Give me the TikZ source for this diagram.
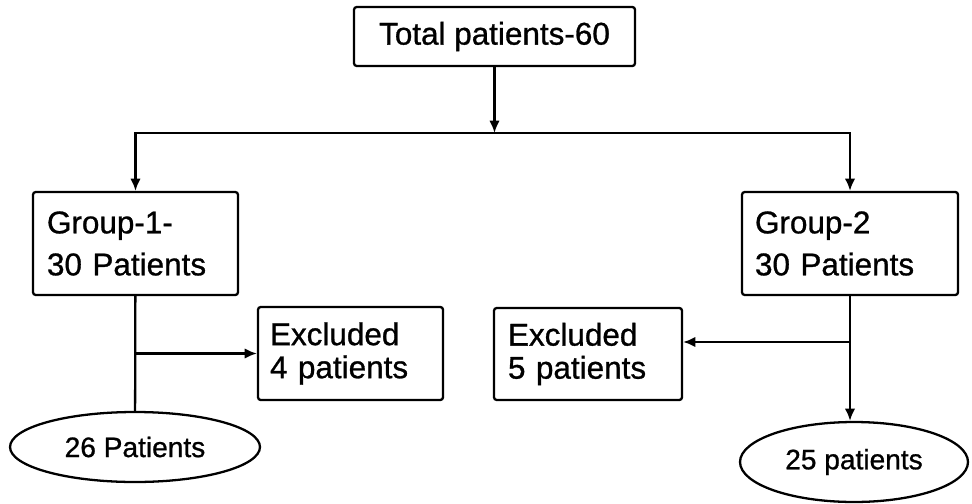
\documentclass[tikz,border=0pt]{standalone}
\usepackage{fontspec}
\setmainfont{Liberation Sans}[FakeBold=0.9]
\usetikzlibrary{shapes.geometric, arrows.meta}

\begin{document}
\begin{tikzpicture}[x=0.02cm, y=-0.02cm,
  box/.style={draw=black, line width=1.3pt, rounded corners=1.5pt, inner ysep=0pt},
  bigtext/.style={font=\fontsize{17.9}{23.9}\selectfont},
  smalltext/.style={font=\fontsize{17.9}{18.8}\selectfont},
  oval/.style={ellipse, draw=black, line width=1.3pt, inner sep=0pt, font=\fontsize{16}{19}\selectfont},
  arr/.style={-{Latex[length=7pt,width=6pt]}, line width=1.3pt},
  link/.style={line width=1.3pt}]

  \useasboundingbox (0,0) rectangle (972,503);

  % Nodes
  \node[box, bigtext, minimum width=5.62cm, minimum height=1.18cm] (total) at (494.5,36.5) {Total patients-60};
  \node[box, bigtext, minimum width=4.1cm, minimum height=2.06cm, inner xsep=0.28cm, text width=3.54cm, align=left] (grpa) at (135.5,243.5) {Group-1-\\30 Patients};
  \node[box, bigtext, minimum width=4.32cm, minimum height=2.06cm, inner xsep=0.26cm, text width=3.8cm, align=left] (grpb) at (850,243.5) {Group-2\\30 Patients};
  \node[box, smalltext, minimum width=3.7cm, minimum height=1.86cm, inner xsep=0.24cm, text width=3.22cm, align=left] (exa) at (350.5,353.5) {Excluded\\4 patients};
  \node[box, smalltext, minimum width=3.76cm, minimum height=1.84cm, inner xsep=0.28cm, text width=3.2cm, align=left] (exb) at (588,354) {Excluded\\5 patients};
  \node[oval, minimum width=5.0cm, minimum height=1.4cm] (resa) at (135,447) {26 Patients};
  \node[oval, minimum width=4.56cm, minimum height=1.6cm] (resb) at (854,462) {25 patients};

  \coordinate (split) at (494.5,133);
  \coordinate (ja) at (grpa.south |- exa.west);
  \coordinate (jb) at (850,342);

  % Arrows
  \draw[arr] (total) -- (split);
  \draw[arr] (split) -| (grpa);
  \draw[arr] (split) -| (grpb);
  \draw[link] (grpa) -- (resa);
  \draw[arr] (ja) -- (exa);
  \draw[arr] (grpb.south) -- (grpb.south |- resb.north);
  \draw[arr] (jb) -- (jb -| exb.east);

\end{tikzpicture}
\end{document}
